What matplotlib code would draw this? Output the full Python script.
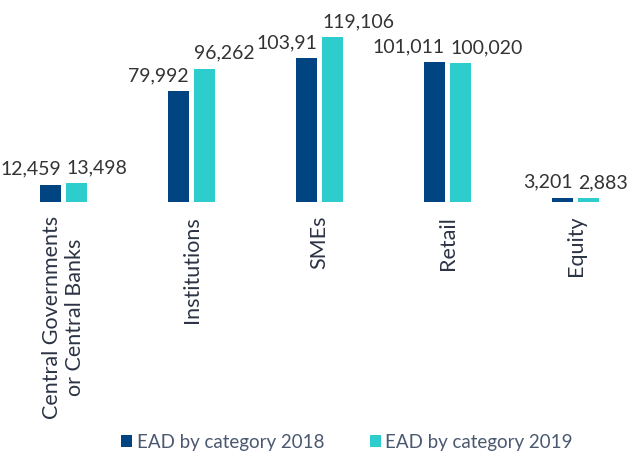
import numpy as np
import matplotlib.pyplot as plt

plt.rcParams['font.family'] = ['Lato', 'DejaVu Sans']

categories = ["Central Governments\nor Central Banks", "Institutions", "SMEs", "Retail", "Equity"]
ead_2018 = [12459, 79992, 103910, 101011, 3201]
ead_2019 = [13498, 96262, 119106, 100020, 2883]
labels_2018 = ["12,459", "79,992", "103,91", "101,011", "3,201"]
labels_2019 = ["13,498", "96,262", "119,106", "100,020", "2,883"]

c18 = "#004481"
c19 = "#2DCCCD"

fig = plt.figure(figsize=(6.33, 4.59), dpi=100)
ax = fig.add_axes([0, 0.56, 1, 0.44])

x = np.arange(len(categories))
w = 0.164
off = 0.1016
b1 = ax.bar(x - off, ead_2018, w, color=c18, label="EAD by category 2018")
b2 = ax.bar(x + off, ead_2019, w, color=c19, label="EAD by category 2019")

for xi, v, s in zip(x, ead_2018, labels_2018):
    ax.annotate(s, (xi - off + w / 2, v), xytext=(0, 5), textcoords="offset points",
                ha="right", va="bottom", fontsize=14, color="#333333")
for xi, v, s in zip(x, ead_2019, labels_2019):
    ax.annotate(s, (xi + off - w / 2, v), xytext=(0, 5), textcoords="offset points",
                ha="left", va="bottom", fontsize=14, color="#333333")

ax.set_xlim(-0.496, 4.449)
ax.set_ylim(0, 145800)
ax.set_xticks(x)
ax.set_xticklabels(categories, rotation=90, fontsize=15.5, color="#2b3345")
ax.tick_params(axis="x", length=0, pad=10)
ax.set_yticks([])
for sp in ax.spines.values():
    sp.set_visible(False)

fig.legend(handles=[b1, b2], loc="center", bbox_to_anchor=(347 / 633, 0.037), ncol=2,
           frameon=False, fontsize=13.5, handlelength=0.6, handleheight=0.6,
           handletextpad=0.25, columnspacing=2.4, labelcolor="#4a5870")

fig.savefig("out.png", dpi=100)
